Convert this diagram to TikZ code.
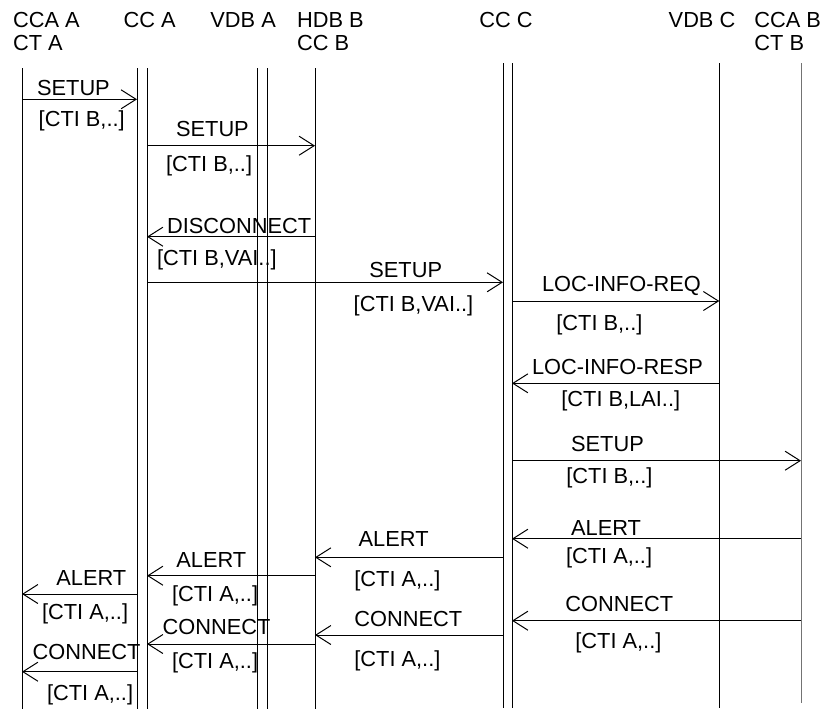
\documentclass[tikz,border=0pt]{standalone}
\usepackage{fontspec}
\setmainfont{Liberation Sans}
\usetikzlibrary{arrows.meta}
\tikzset{
  lifeline/.style={draw=black, line width=0.5pt},
  msgline/.style={
    draw=black, line width=0.5pt,
    -{Straight Barb[length=7.5pt, width=9.5pt]}
  },
  msglabel/.style={
    anchor=base west, inner sep=0pt,
    font=\fontsize{10.9}{11.7}\selectfont
  },
  headlabel/.style={msglabel, align=left}
}

\begin{document}
\begin{tikzpicture}[x=0.5pt, y=-0.5pt]
  \useasboundingbox (0,0) rectangle (822,709);

  % Entity names (base = last line)
  \node[headlabel] (hccaA) at (12.7,50.7) {CCA A\\CT A};
  \node[headlabel] (hccA) at (123.3,27.3) {CC A};
  \node[headlabel] (hvdbA) at (210,27.3) {VDB A};
  \node[headlabel] (hhdbB) at (296.7,50.7) {HDB B\\CC B};
  \node[headlabel] (hccC) at (479,27.3) {CC C};
  \node[headlabel] (hvdbC) at (668.3,27.3) {VDB C};
  \node[headlabel] (hccaB) at (754,50.7) {CCA B\\CT B};

  % Lifelines
  \coordinate (ccaA) at (22,68);    \coordinate (ccaAend) at (22,709);
  \coordinate (ccAl) at (137,68);   \coordinate (ccAlend) at (137,709);
  \coordinate (ccAr) at (147,68);   \coordinate (ccArend) at (147,709);
  \coordinate (vdbAl) at (257.5,68); \coordinate (vdbAlend) at (257.5,709);
  \coordinate (vdbAr) at (267,68);  \coordinate (vdbArend) at (267,709);
  \coordinate (hdbB) at (315,68);   \coordinate (hdbBend) at (315,709);
  \coordinate (ccCl) at (503,63);   \coordinate (ccClend) at (503,708);
  \coordinate (ccCr) at (512,63);   \coordinate (ccCrend) at (512,708);
  \coordinate (vdbC) at (719.3,63); \coordinate (vdbCend) at (719.3,708);
  \coordinate (ccaB) at (801,63);   \coordinate (ccaBend) at (801,703);

  \draw[lifeline] (ccaA) -- (ccaAend);
  \draw[lifeline] (ccAl) -- (ccAlend);
  \draw[lifeline] (ccAr) -- (ccArend);
  \draw[lifeline] (vdbAl) -- (vdbAlend);
  \draw[lifeline] (vdbAr) -- (vdbArend);
  \draw[lifeline] (hdbB) -- (hdbBend);
  \draw[lifeline] (ccCl) -- (ccClend);
  \draw[lifeline] (ccCr) -- (ccCrend);
  \draw[lifeline] (vdbC) -- (vdbCend);
  \draw[lifeline, draw=black!55] (ccaB) -- (ccaBend);

  % Message rows
  \coordinate (m1) at (0,99.3);
  \coordinate (m2) at (0,145.7);
  \coordinate (m3) at (0,236.7);
  \coordinate (m4) at (0,282.3);
  \coordinate (m5) at (0,301);
  \coordinate (m6) at (0,383.3);
  \coordinate (m7) at (0,460.7);
  \coordinate (m8) at (0,538.7);
  \coordinate (m9) at (0,620.7);
  \coordinate (m10) at (0,557.3);
  \coordinate (m11) at (0,635);
  \coordinate (m12) at (0,575.7);
  \coordinate (m13) at (0,644);
  \coordinate (m14) at (0,594);
  \coordinate (m15) at (0,671.7);

  % Setup towards HDB B
  \draw[msgline] (ccaA |- m1) -- (ccAl |- m1);
  \node[msglabel] (t1) at (36.7,95.7) {SETUP};
  \node[msglabel] (p1) at (38.3,126) {[CTI B,..]};

  \draw[msgline] (ccAr |- m2) -- (hdbB |- m2);
  \node[msglabel] (t2) at (175.7,136) {SETUP};
  \node[msglabel] (p2) at (165.7,171.7) {[CTI B,..]};

  \draw[msgline] (hdbB |- m3) -- (ccAr |- m3);
  \node[msglabel] (t3) at (166.7,233.3) {DISCONNECT};
  \node[msglabel] (p3) at (156.7,265) {[CTI B,VAI..]};

  % Setup towards CC C and location request
  \draw[msgline] (ccAr |- m4) -- (ccCl |- m4);
  \node[msglabel] (t4) at (369,277.3) {SETUP};
  \node[msglabel] (p4) at (353.3,311.7) {[CTI B,VAI..]};

  \draw[msgline] (ccCr |- m5) -- (vdbC |- m5);
  \node[msglabel] (t5) at (541.7,291.7) {LOC-INFO-REQ};
  \node[msglabel] (p5) at (556,330) {[CTI B,..]};

  \draw[msgline] (vdbC |- m6) -- (ccCr |- m6);
  \node[msglabel] (t6) at (531.7,374) {LOC-INFO-RESP};
  \node[msglabel] (p6) at (561,406.7) {[CTI B,LAI..]};

  \draw[msgline] (ccCr |- m7) -- (ccaB |- m7);
  \node[msglabel] (t7) at (570.7,451.7) {SETUP};
  \node[msglabel] (p7) at (566,483) {[CTI B,..]};

  % Alert and connect back to CCA A
  \draw[msgline] (ccaB |- m8) -- (ccCr |- m8);
  \node[msglabel] (t8) at (570.7,535) {ALERT};
  \node[msglabel] (p8) at (565.7,563.3) {[CTI A,..]};

  \draw[msgline] (ccaB |- m9) -- (ccCr |- m9);
  \node[msglabel] (t9) at (565,611.7) {CONNECT};
  \node[msglabel] (p9) at (575,648) {[CTI A,..]};

  \draw[msgline] (ccCl |- m10) -- (hdbB |- m10);
  \node[msglabel] (t10) at (358.3,546.7) {ALERT};
  \node[msglabel] (p10) at (354,586.7) {[CTI A,..]};

  \draw[msgline] (ccCl |- m11) -- (hdbB |- m11);
  \node[msglabel] (t11) at (354,626) {CONNECT};
  \node[msglabel] (p11) at (354,666.7) {[CTI A,..]};

  \draw[msgline] (hdbB |- m12) -- (ccAr |- m12);
  \node[msglabel] (t12) at (176,567.3) {ALERT};
  \node[msglabel] (p12) at (171.7,601) {[CTI A,..]};

  \draw[msgline] (hdbB |- m13) -- (ccAr |- m13);
  \node[msglabel] (t13) at (162.3,634) {CONNECT};
  \node[msglabel] (p13) at (171.7,668.3) {[CTI A,..]};

  \draw[msgline] (ccAl |- m14) -- (ccaA |- m14);
  \node[msglabel] (t14) at (56,585) {ALERT};
  \node[msglabel] (p14) at (41.7,619) {[CTI A,..]};

  \draw[msgline] (ccAl |- m15) -- (ccaA |- m15);
  \node[msglabel] (t15) at (32.3,659.3) {CONNECT};
  \node[msglabel] (p15) at (46.7,700) {[CTI A,..]};

\end{tikzpicture}
\end{document}
